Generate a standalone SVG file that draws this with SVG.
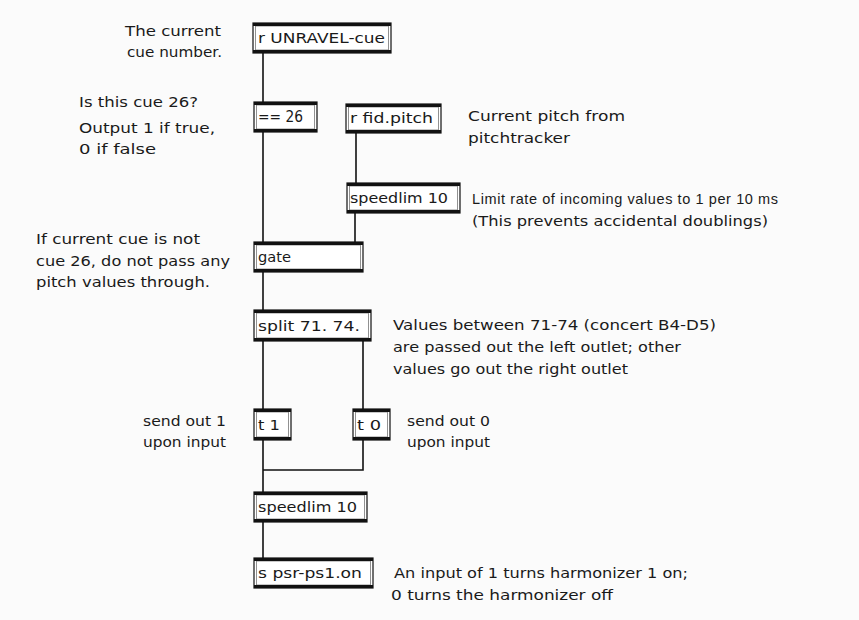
<svg xmlns="http://www.w3.org/2000/svg" width="859" height="620" viewBox="0 0 859 620">
<style>
text{font-family:"DejaVu Sans","Liberation Sans",sans-serif;font-size:14px;fill:#1a1a1a}
text.cond{font-family:"Liberation Sans",Arial,sans-serif;font-size:14.5px}
.box{fill:#fff;stroke:#111;stroke-width:1.2}
.inner{fill:none;stroke:#777;stroke-width:0.8}
.bar{fill:#111}
.wire{stroke:#111;stroke-width:1.6;fill:none}
</style>
<rect width="859" height="620" fill="#fbfbfb"/>
<g id="connectors">
<line class="wire" x1="263" y1="53" x2="263" y2="102"/>
<line class="wire" x1="356" y1="133" x2="356" y2="183"/>
<line class="wire" x1="263" y1="132" x2="263" y2="242"/>
<line class="wire" x1="355" y1="213" x2="355" y2="242"/>
<line class="wire" x1="263" y1="272" x2="263" y2="310"/>
<line class="wire" x1="263" y1="341" x2="263" y2="409"/>
<line class="wire" x1="363" y1="341" x2="363" y2="409"/>
<line class="wire" x1="263" y1="440" x2="263" y2="492"/>
<polyline class="wire" points="363,440 363,470 263,470"/>
<line class="wire" x1="263" y1="522" x2="263" y2="558"/>
</g>
<g id="n-receive-cue">
<rect class="box" x="253" y="23" width="138" height="30"/><rect class="inner" x="255.5" y="26" width="133" height="24"/>
<rect class="bar" x="253" y="23" width="138" height="3"/><rect class="bar" x="253" y="50" width="138" height="3"/>
<text x="258" y="43" textLength="127" lengthAdjust="spacingAndGlyphs">r UNRAVEL-cue</text>
</g>
<g id="n-eq26">
<rect class="box" x="254" y="102" width="63" height="30"/><rect class="inner" x="256.5" y="105" width="58" height="24"/>
<rect class="bar" x="254" y="102" width="63" height="3"/><rect class="bar" x="254" y="129" width="63" height="3"/>
<text x="258" y="122" textLength="45" lengthAdjust="spacingAndGlyphs" style="font-size:15px">== 26</text>
</g>
<g id="n-fid-pitch">
<rect class="box" x="346" y="104" width="95" height="29"/><rect class="inner" x="348.5" y="107" width="90" height="23"/>
<rect class="bar" x="346" y="104" width="95" height="3"/><rect class="bar" x="346" y="130" width="95" height="3"/>
<text x="350" y="123" textLength="83" lengthAdjust="spacingAndGlyphs">r fid.pitch</text>
</g>
<g id="n-speedlim-1">
<rect class="box" x="347" y="183" width="113" height="30"/><rect class="inner" x="349.5" y="186" width="108" height="24"/>
<rect class="bar" x="347" y="183" width="113" height="3"/><rect class="bar" x="347" y="210" width="113" height="3"/>
<text x="350" y="203" textLength="98" lengthAdjust="spacingAndGlyphs">speedlim 10</text>
</g>
<g id="n-gate">
<rect class="box" x="254" y="242" width="109" height="30"/><rect class="inner" x="256.5" y="245" width="104" height="24"/>
<rect class="bar" x="254" y="242" width="109" height="3"/><rect class="bar" x="254" y="269" width="109" height="3"/>
<text x="258" y="262" textLength="33" lengthAdjust="spacingAndGlyphs">gate</text>
</g>
<g id="n-split">
<rect class="box" x="254" y="310" width="117" height="31"/><rect class="inner" x="256.5" y="313" width="112" height="25"/>
<rect class="bar" x="254" y="310" width="117" height="3"/><rect class="bar" x="254" y="338" width="117" height="3"/>
<text x="258" y="331" textLength="102" lengthAdjust="spacingAndGlyphs">split 71. 74.</text>
</g>
<g id="n-t1">
<rect class="box" x="254" y="409" width="37" height="31"/><rect class="inner" x="256.5" y="412" width="32" height="25"/>
<rect class="bar" x="254" y="409" width="37" height="3"/><rect class="bar" x="254" y="437" width="37" height="3"/>
<text x="258" y="430" textLength="22" lengthAdjust="spacingAndGlyphs">t 1</text>
</g>
<g id="n-t0">
<rect class="box" x="353" y="409" width="37" height="31"/><rect class="inner" x="355.5" y="412" width="32" height="25"/>
<rect class="bar" x="353" y="409" width="37" height="3"/><rect class="bar" x="353" y="437" width="37" height="3"/>
<text x="357" y="430" textLength="24" lengthAdjust="spacingAndGlyphs">t 0</text>
</g>
<g id="n-speedlim-2">
<rect class="box" x="254" y="492" width="113" height="30"/><rect class="inner" x="256.5" y="495" width="108" height="24"/>
<rect class="bar" x="254" y="492" width="113" height="3"/><rect class="bar" x="254" y="519" width="113" height="3"/>
<text x="258" y="512" textLength="99" lengthAdjust="spacingAndGlyphs">speedlim 10</text>
</g>
<g id="n-send-psr">
<rect class="box" x="254" y="558" width="119" height="30"/><rect class="inner" x="256.5" y="561" width="114" height="24"/>
<rect class="bar" x="254" y="558" width="119" height="3"/><rect class="bar" x="254" y="585" width="119" height="3"/>
<text x="258" y="578" textLength="104" lengthAdjust="spacingAndGlyphs">s psr-ps1.on</text>
</g>
<g id="comments">
<text x="125" y="36" textLength="96" lengthAdjust="spacingAndGlyphs">The current</text>
<text x="127" y="57" textLength="95" lengthAdjust="spacingAndGlyphs">cue number.</text>
<text x="79" y="107" textLength="119" lengthAdjust="spacingAndGlyphs">Is this cue 26?</text>
<text x="79" y="133" textLength="136" lengthAdjust="spacingAndGlyphs">Output 1 if true,</text>
<text x="79" y="154" textLength="77" lengthAdjust="spacingAndGlyphs">0 if false</text>
<text x="36" y="244" textLength="164" lengthAdjust="spacingAndGlyphs">If current cue is not</text>
<text x="36" y="266" textLength="194" lengthAdjust="spacingAndGlyphs">cue 26, do not pass any</text>
<text x="36" y="287" textLength="174" lengthAdjust="spacingAndGlyphs">pitch values through.</text>
<text x="468" y="121" textLength="157" lengthAdjust="spacingAndGlyphs">Current pitch from</text>
<text x="468" y="143" textLength="102" lengthAdjust="spacingAndGlyphs">pitchtracker</text>
<text class="cond" x="472" y="204" textLength="306" lengthAdjust="spacing">Limit rate of incoming values to 1 per 10 ms</text>
<text x="472" y="226" textLength="296" lengthAdjust="spacingAndGlyphs">(This prevents accidental doublings)</text>
<text x="393" y="330" textLength="323" lengthAdjust="spacingAndGlyphs">Values between 71-74 (concert B4-D5)</text>
<text x="393" y="352" textLength="288" lengthAdjust="spacingAndGlyphs">are passed out the left outlet; other</text>
<text x="393" y="374" textLength="235" lengthAdjust="spacingAndGlyphs">values go out the right outlet</text>
<text x="143" y="426" textLength="83" lengthAdjust="spacingAndGlyphs">send out 1</text>
<text x="143" y="447" textLength="83" lengthAdjust="spacingAndGlyphs">upon input</text>
<text x="407" y="426" textLength="83" lengthAdjust="spacingAndGlyphs">send out 0</text>
<text x="407" y="447" textLength="83" lengthAdjust="spacingAndGlyphs">upon input</text>
<text x="394" y="578" textLength="294" lengthAdjust="spacingAndGlyphs">An input of 1 turns harmonizer 1 on;</text>
<text x="391" y="600" textLength="222" lengthAdjust="spacingAndGlyphs">0 turns the harmonizer off</text>
</g>
</svg>
